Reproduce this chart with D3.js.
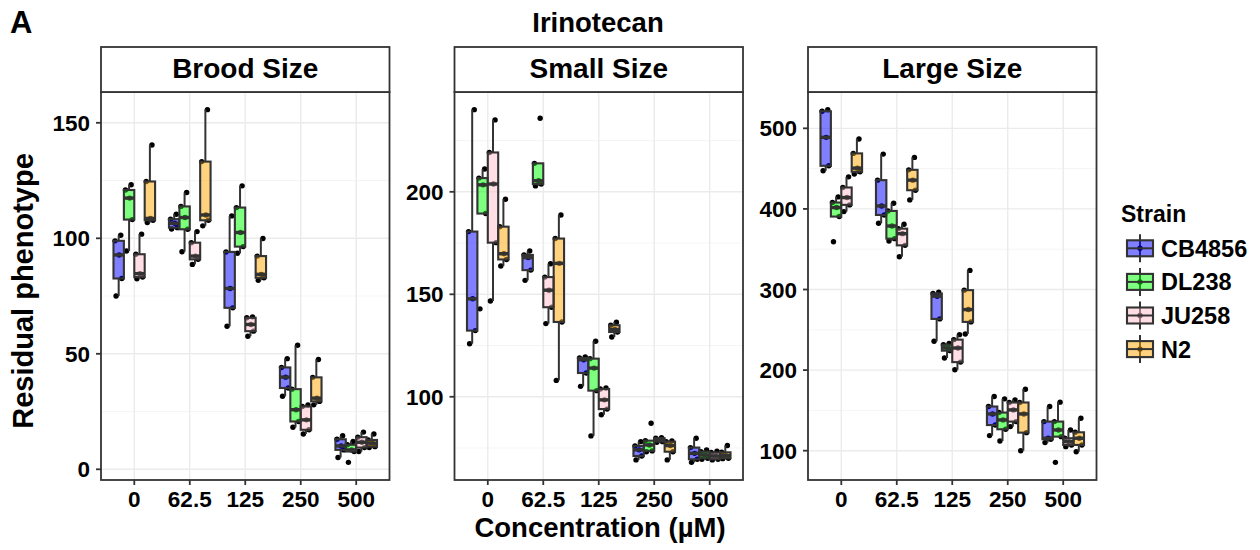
<!DOCTYPE html>
<meta charset="utf-8">
<style>
body { margin: 0; background: #fff; }
svg text { font-family: "Liberation Sans", Arial, sans-serif; font-weight: bold; fill: #000; }
.grid-major { stroke: #ebebeb; stroke-width: 1.4; }
.grid-minor { stroke: #f2f2f2; stroke-width: 0.8; }
.frame { fill: none; stroke: #333; stroke-width: 1.8; }
.strip { fill: #fff; stroke: #333; stroke-width: 1.8; }
.box { stroke: #333; stroke-width: 2.1; fill-opacity: 0.5; }
.whisker { stroke: #333; stroke-width: 2; }
.median { stroke: #333; stroke-width: 3.4; }
.tick { stroke: #333; stroke-width: 1.8; }
</style>
<svg width="1260" height="550"></svg>
<script src="https://cdn.jsdelivr.net/npm/d3@7"></script>
<script>

var strains = ["CB4856", "DL238", "JU258", "N2"];
var concs = ["0", "62.5", "125", "250", "500"];
var fills = ["#0000ff", "#00ff00", "#ffc0cb", "#ffa500"];
var panelNames = ["Brood Size", "Small Size", "Large Size"];

// replicate values per concentration (0, 62.5, 125, 250, 500)
var broodCB4856 = [[75.0, 82.6, 92.8, 98.9, 101.3], [104.0, 104.6, 106.5, 108.3, 110.4], [61.9, 69.9, 78.3, 94.1, 109.7], [31.6, 35.2, 39.9, 44.1, 47.9], [5.1, 8.4, 10.1, 13.0, 14.5]];
var broodDL238 = [[94.5, 108.1, 117.4, 120.9, 123.2], [94.2, 103.9, 109.0, 113.8, 119.8], [93.5, 96.4, 102.5, 113.3, 122.7], [18.2, 20.7, 25.8, 34.7, 53.7], [3.0, 7.7, 8.4, 10.6, 12.0]];
var broodJU258 = [[82.5, 83.2, 84.7, 93.1, 101.8], [88.7, 90.9, 92.3, 98.1, 102.9], [57.6, 59.8, 62.7, 65.6, 66.0], [15.3, 17.1, 21.4, 27.2, 27.9], [7.7, 9.4, 11.7, 13.9, 16.1]];
var broodN2 = [[106.8, 107.8, 108.6, 124.6, 140.4], [105.4, 107.8, 110.1, 133.2, 155.7], [81.8, 82.9, 84.4, 92.3, 99.9], [27.9, 29.4, 30.8, 39.8, 47.5], [9.4, 9.8, 11.3, 12.7, 15.3]];

var smallCB4856 = [[125.9, 132.3, 147.8, 180.6, 240.1], [156.8, 161.8, 167.9, 169.2, 171.1], [105.1, 111.6, 118.1, 118.9, 119.4], [69.2, 71.1, 74.1, 76.0, 78.1], [68.0, 69.5, 72.4, 75.2, 79.8]];
var smallDL238 = [[142.9, 189.4, 203.4, 206.7, 211.1], [202.9, 203.8, 205.4, 213.9, 235.9], [80.9, 103.0, 114.0, 118.6, 127.1], [73.2, 73.6, 76.5, 78.6, 87.1], [69.5, 70.0, 71.6, 73.2, 74.0]];
var smallJU258 = [[146.7, 175.2, 203.8, 219.2, 235.1], [135.7, 143.7, 152.0, 158.4, 164.9], [91.2, 94.0, 98.5, 103.8, 104.3], [77.8, 78.1, 79.0, 79.8, 80.0], [69.2, 69.5, 71.1, 72.8, 73.5]];
var smallN2 = [[163.8, 167.0, 169.8, 183.0, 196.4], [108.0, 136.5, 165.1, 177.2, 188.7], [129.2, 131.6, 132.8, 134.9, 136.4], [69.2, 73.2, 76.2, 78.1, 78.5], [69.8, 70.0, 71.3, 72.9, 76.2]];

var largeCB4856 = [[447.3, 453.5, 488.8, 521.2, 523.2], [382.2, 392.5, 403.7, 435.7, 468.0], [235.7, 263.5, 291.7, 295.0, 296.7], [118.7, 131.8, 145.6, 154.8, 167.2], [110.0, 114.1, 115.4, 136.1, 154.8]];
var largeDL238 = [[359.3, 390.5, 401.7, 407.9, 414.9], [360.2, 363.1, 378.8, 397.5, 407.1], [215.0, 224.1, 227.4, 231.5, 233.0], [112.0, 126.6, 138.2, 147.3, 164.3], [85.5, 117.4, 125.7, 136.1, 160.2]];
var largeJU258 = [[396.7, 405.0, 414.1, 426.6, 439.8], [340.7, 354.8, 369.3, 375.5, 380.9], [200.4, 209.9, 227.4, 237.8, 244.0], [129.9, 136.1, 150.6, 159.8, 163.1], [105.0, 107.1, 111.2, 115.4, 125.7]];
var largeN2 = [[443.2, 446.1, 450.6, 468.9, 486.7], [411.2, 423.2, 435.7, 448.5, 463.9], [244.8, 259.8, 275.1, 299.2, 323.7], [100.0, 122.4, 145.6, 159.8, 176.3], [98.7, 107.1, 115.4, 122.8, 140.2]];

var broodTicks = [0, 50, 100, 150];
var smallTicks = [100, 150, 200];
var largeTicks = [100, 200, 300, 400, 500];

var panelData = [
  [broodCB4856, broodDL238, broodJU258, broodN2],
  [smallCB4856, smallDL238, smallJU258, smallN2],
  [largeCB4856, largeDL238, largeJU258, largeN2]
];
var panelTicks = [broodTicks, smallTicks, largeTicks];

// horizontal jitter of replicate points, as a share of box width
var jitter = [-0.25, 0.3, 0.05, -0.35, 0.2];

var svg = d3.select("svg");

var panelLeft = [101, 454.5, 808],
    panelW = 288.5,
    plotTop = 92,
    plotBottom = 480,
    stripTop = 47;

function boxStats(vals) {
  var s = vals.slice().sort(d3.ascending);
  var q1 = d3.quantile(s, 0.25), med = d3.quantile(s, 0.5), q3 = d3.quantile(s, 0.75);
  var iqr = q3 - q1;
  var inside = s.filter(function(v) { return v >= q1 - 1.5 * iqr && v <= q3 + 1.5 * iqr; });
  return {q1: q1, med: med, q3: q3, lo: d3.min(inside), hi: d3.max(inside)};
}

panelNames.forEach(function(name, pi) {
  var left = panelLeft[pi], right = left + panelW;
  var data = panelData[pi];
  var all = d3.merge(data.map(function(s) { return d3.merge(s); }));
  var ext = d3.extent(all), pad = (ext[1] - ext[0]) * 0.05;

  var y = d3.scaleLinear().domain([ext[0] - pad, ext[1] + pad]).range([plotBottom, plotTop]);
  var x = d3.scaleBand().domain(concs).range([left, right]).paddingInner(0).paddingOuter(0.1);
  var step = x.bandwidth();
  var dodge = d3.scaleBand().domain(strains).range([-0.375 * step, 0.375 * step]);
  var bw = dodge.bandwidth();

  var ticks = panelTicks[pi];
  var half = (ticks[1] - ticks[0]) / 2;
  var minor = d3.range(ticks[0] - half, ticks[ticks.length - 1] + 2 * half, 2 * half)
      .filter(function(v) { return v > y.domain()[0] && v < y.domain()[1]; });

  var g = svg.append("g");

  g.selectAll(".grid-minor").data(minor).enter().append("line")
      .attr("class", "grid-minor")
      .attr("x1", left).attr("x2", right)
      .attr("y1", y).attr("y2", y);

  g.selectAll(".grid-major.h").data(ticks).enter().append("line")
      .attr("class", "grid-major h")
      .attr("x1", left).attr("x2", right)
      .attr("y1", y).attr("y2", y);

  g.selectAll(".grid-major.v").data(concs).enter().append("line")
      .attr("class", "grid-major v")
      .attr("x1", function(c) { return x(c) + step / 2; })
      .attr("x2", function(c) { return x(c) + step / 2; })
      .attr("y1", plotTop).attr("y2", plotBottom);

  // points first, so the translucent boxes tint them
  strains.forEach(function(st, si) {
    data[si].forEach(function(vals, ci) {
      var cx = x(concs[ci]) + step / 2 + dodge(st) + bw / 2;
      g.selectAll(null).data(vals).enter().append("circle")
          .attr("cx", function(v, i) { return cx + jitter[i % jitter.length] * bw; })
          .attr("cy", y)
          .attr("r", 2.7)
          .attr("fill", "#000");
    });
  });

  strains.forEach(function(st, si) {
    data[si].forEach(function(vals, ci) {
      var b = boxStats(vals);
      var x0 = x(concs[ci]) + step / 2 + dodge(st);
      var cx = x0 + bw / 2;
      g.append("line").attr("class", "whisker")
          .attr("x1", cx).attr("x2", cx).attr("y1", y(b.hi)).attr("y2", y(b.q3));
      g.append("line").attr("class", "whisker")
          .attr("x1", cx).attr("x2", cx).attr("y1", y(b.q1)).attr("y2", y(b.lo));
      g.append("rect").attr("class", "box")
          .attr("x", x0).attr("width", bw)
          .attr("y", y(b.q3)).attr("height", Math.max(0.5, y(b.q1) - y(b.q3)))
          .attr("fill", fills[si]);
      g.append("line").attr("class", "median")
          .attr("x1", x0).attr("x2", x0 + bw).attr("y1", y(b.med)).attr("y2", y(b.med));
    });
  });

  g.append("rect").attr("class", "frame")
      .attr("x", left).attr("y", plotTop).attr("width", panelW).attr("height", plotBottom - plotTop);

  // strip
  g.append("rect").attr("class", "strip")
      .attr("x", left).attr("y", stripTop).attr("width", panelW).attr("height", plotTop - stripTop);
  g.append("text")
      .attr("x", left + panelW / 2).attr("y", 77.5)
      .attr("text-anchor", "middle")
      .style("font-size", "28px")
      .text(name);

  // y axis
  g.selectAll(".ytick").data(ticks).enter().append("line")
      .attr("class", "tick")
      .attr("x1", left - 5).attr("x2", left)
      .attr("y1", y).attr("y2", y);
  g.selectAll(".ylab").data(ticks).enter().append("text")
      .attr("x", left - 11)
      .attr("y", y)
      .attr("dy", "0.36em")
      .attr("text-anchor", "end")
      .style("font-size", "22.5px")
      .text(function(d) { return d; });

  // x axis
  g.selectAll(".xtick").data(concs).enter().append("line")
      .attr("class", "tick")
      .attr("x1", function(c) { return x(c) + step / 2; })
      .attr("x2", function(c) { return x(c) + step / 2; })
      .attr("y1", plotBottom).attr("y2", plotBottom + 5);
  g.selectAll(".xlab").data(concs).enter().append("text")
      .attr("x", function(c) { return x(c) + step / 2; })
      .attr("y", 507)
      .attr("text-anchor", "middle")
      .style("font-size", "22.5px")
      .text(function(c) { return c; });
});

svg.append("text").attr("x", 10).attr("y", 33)
    .style("font-size", "31px").text("A");

svg.append("text").attr("x", 598).attr("y", 31.5)
    .attr("text-anchor", "middle")
    .style("font-size", "27.5px").text("Irinotecan");

svg.append("text")
    .attr("transform", "translate(33,291) rotate(-90)")
    .attr("text-anchor", "middle")
    .style("font-size", "29px").text("Residual phenotype");

svg.append("text").attr("x", 600).attr("y", 537)
    .attr("text-anchor", "middle")
    .style("font-size", "27.5px").text("Concentration (\u00b5M)");

// legend
var legend = svg.append("g");
legend.append("text").attr("x", 1121).attr("y", 221.5)
    .style("font-size", "23px").text("Strain");

var keyY = d3.scalePoint().domain(strains).range([248.3, 349.1]);

strains.forEach(function(st, si) {
  var cy = keyY(st), kx = 1127, kw = 26;
  legend.append("line").attr("class", "whisker")
      .attr("x1", kx + kw / 2).attr("x2", kx + kw / 2)
      .attr("y1", cy - 14).attr("y2", cy + 14);
  legend.append("circle").attr("cx", kx + kw / 2).attr("cy", cy).attr("r", 2.7).attr("fill", "#000");
  legend.append("rect").attr("class", "box")
      .attr("x", kx).attr("y", cy - 8).attr("width", kw).attr("height", 16)
      .attr("fill", fills[si]);
  legend.append("line").attr("class", "whisker")
      .attr("x1", kx).attr("x2", kx + kw).attr("y1", cy).attr("y2", cy);
  legend.append("text").attr("x", 1161).attr("y", cy).attr("dy", "0.36em")
      .style("font-size", "23.5px").text(st);
});

</script>
